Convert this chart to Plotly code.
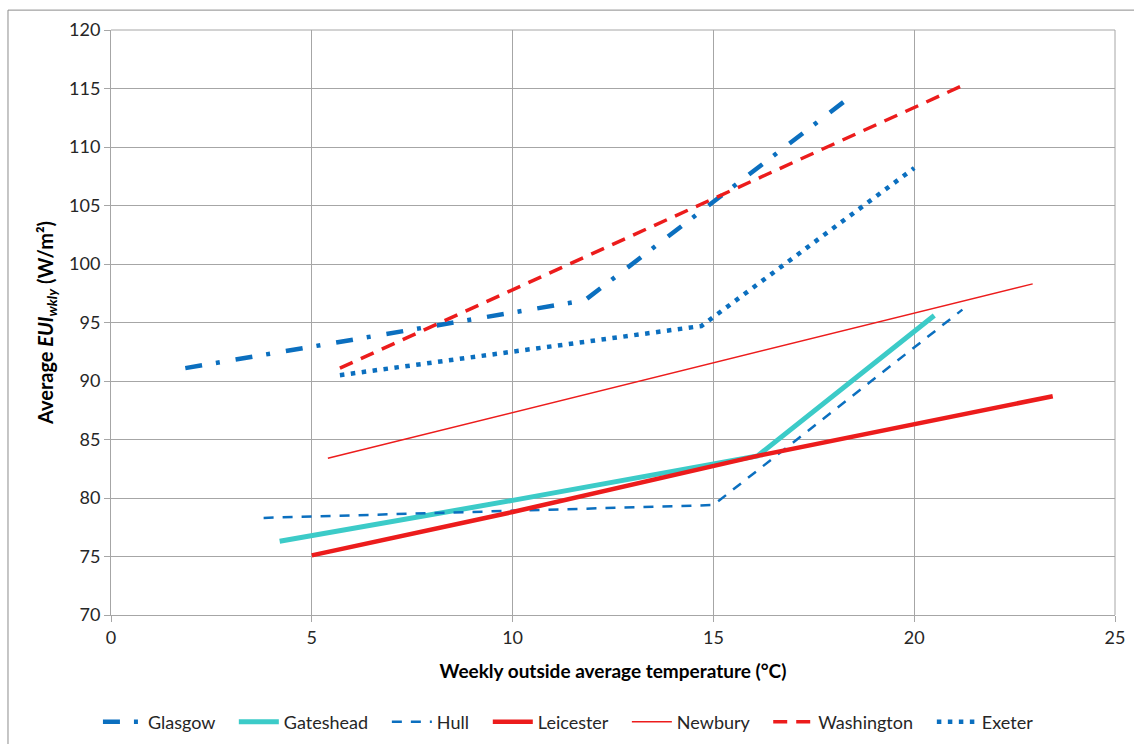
import plotly.graph_objects as go

# Data
glasgow_x = [1.85, 11.8, 18.3]
glasgow_y = [91.1, 96.9, 114.0]
gateshead_x = [4.2, 7.6, 10.0, 16.1, 20.5]
gateshead_y = [76.3, 78.3, 79.8, 83.6, 95.6]
hull_x = [3.8, 15.0, 21.2]
hull_y = [78.3, 79.4, 96.1]
leicester_x = [5.0, 7.6, 10.0, 16.1, 23.45]
leicester_y = [75.1, 77.0, 78.8, 83.6, 88.7]
newbury_x = [5.4, 22.95]
newbury_y = [83.4, 98.3]
washington_x = [5.7, 21.3]
washington_y = [91.1, 115.4]
exeter_x = [5.7, 14.7, 20.0]
exeter_y = [90.5, 94.7, 108.2]

BLUE = "#0B6FBF"
TEAL = "#3CCBC8"
RED = "#EC1C1C"

series = [
    ("Glasgow", glasgow_x, glasgow_y, BLUE, 4.5, "17px,14px,4px,16px"),
    ("Gateshead", gateshead_x, gateshead_y, TEAL, 5, "solid"),
    ("Hull", hull_x, hull_y, BLUE, 2.5, "10px,9px"),
    ("Leicester", leicester_x, leicester_y, RED, 4.5, "solid"),
    ("Newbury", newbury_x, newbury_y, RED, 1.5, "solid"),
    ("Washington", washington_x, washington_y, RED, 3.5, "14px,9px"),
    ("Exeter", exeter_x, exeter_y, BLUE, 4.5, "4.5px,6.5px"),
]

PAD = "\u00a0" * 3

fig = go.Figure()
for name, xs, ys, col, w, dash in series:
    fig.add_trace(go.Scatter(
        x=xs, y=ys, mode="lines", name=name + PAD,
        line=dict(color=col, width=w, dash=dash),
    ))

FONT = "Lato, 'Open Sans', sans-serif"
GRID = "#A6A6A6"

fig.update_layout(
    width=1134, height=744,
    margin=dict(l=111, r=19, t=30, b=129),
    paper_bgcolor="white", plot_bgcolor="white",
    font=dict(family=FONT, size=18, color="#262626"),
    showlegend=True,
    legend=dict(
        orientation="h", xref="container", yref="container",
        x=0.507, xanchor="center", y=1 - 722 / 744, yanchor="middle",
        font=dict(size=18, color="#262626"), traceorder="normal",
        itemwidth=40,
    ),
    xaxis=dict(
        range=[0, 25], tickvals=[0, 5, 10, 15, 20, 25],
        showgrid=True, gridcolor=GRID, gridwidth=1,
        showline=True, linecolor=GRID, linewidth=1, mirror=False,
        ticks="outside", ticklen=6, tickcolor=GRID,
        zeroline=False,
        tickfont=dict(size=18, color="#262626"),
        title=dict(text="<b>Weekly outside average temperature (°C)</b>",
                   font=dict(size=19, color="#000000"), standoff=18),
        automargin=False,
    ),
    yaxis=dict(
        range=[70, 120], tickvals=[70, 75, 80, 85, 90, 95, 100, 105, 110, 115, 120],
        showgrid=True, gridcolor=GRID, gridwidth=1,
        showline=True, linecolor=GRID, linewidth=1, mirror=False,
        ticks="outside", ticklen=6, tickcolor=GRID,
        zeroline=False,
        tickfont=dict(size=18, color="#262626"),
        title=dict(text="<b>Average <i>EUI<sub>wkly</sub></i> (W/m²)</b>",
                   font=dict(size=20, color="#000000"), standoff=10),
        automargin=False,
    ),
    shapes=[
        dict(type="line", xref="paper", yref="paper", x0=1, x1=1, y0=0, y1=1,
             line=dict(color=GRID, width=1)),
        dict(type="line", xref="paper", yref="paper", x0=0, x1=1, y0=1, y1=1,
             line=dict(color=GRID, width=1)),
        dict(type="rect", xref="paper", yref="paper",
             x0=-0.1026, x1=1.03, y0=-0.235, y1=1.034,
             line=dict(color="#8C8C8C", width=1), fillcolor="rgba(0,0,0,0)",
             layer="below"),
    ],
)

fig.write_html("out.html")
